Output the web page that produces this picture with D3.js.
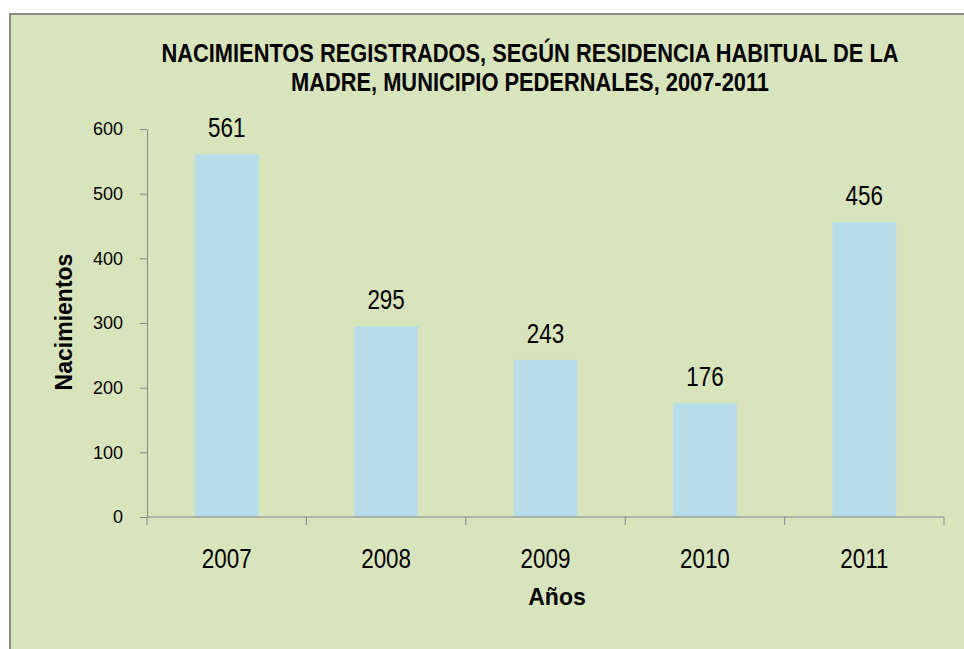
<!DOCTYPE html>
<html>
<head>
<meta charset="utf-8">
<script src="https://cdn.jsdelivr.net/npm/d3@7"></script>
<style>
  body { margin: 0; background: #fff; }
  text { font-family: "Liberation Sans", Arial, sans-serif; fill: #000; }
</style>
</head>
<body>
<div id="chart"></div>
<script>
// data
const years = ["2007", "2008", "2009", "2010", "2011"];
const births = [561, 295, 243, 176, 456];
const yTicks = [0, 100, 200, 300, 400, 500, 600];
const titleLines = [
    "NACIMIENTOS REGISTRADOS, SEGÚN RESIDENCIA HABITUAL DE LA",
    "MADRE, MUNICIPIO PEDERNALES, 2007-2011"
];

const width = 964, height = 649;
const margin = { top: 129, right: 20, bottom: 132, left: 147 };
const narrow = 0.83; // squeeze, the original uses a narrow font

const svg = d3.select("#chart").append("svg")
    .attr("width", width)
    .attr("height", height);

// chart area background
svg.append("rect")
    .attr("x", 10)
    .attr("y", 14)
    .attr("width", width + 20)
    .attr("height", height + 20)
    .attr("fill", "#d8e4bc")
    .attr("stroke", "#8a8a8a")
    .attr("stroke-width", 2);

const x = d3.scaleBand()
    .domain(years)
    .range([margin.left, width - margin.right])
    .paddingInner(0.6)
    .paddingOuter(0.3);

const y = d3.scaleLinear()
    .domain([0, 600])
    .range([height - margin.bottom, margin.top]);

// title
svg.append("g")
    .selectAll("text")
    .data(titleLines)
    .enter()
    .append("text")
    .attr("transform", (d, i) => `translate(530,${62 + i * 29}) scale(0.84,1)`)
    .attr("text-anchor", "middle")
    .style("font-weight", "bold")
    .style("font-size", "26px")
    .text(d => d);

// bars
svg.append("g")
    .selectAll("rect")
    .data(births)
    .enter()
    .append("rect")
    .attr("x", (d, i) => x(years[i]))
    .attr("y", d => y(d))
    .attr("width", x.bandwidth())
    .attr("height", d => y(0) - y(d))
    .attr("fill", "#b7dde8");

// value labels
svg.append("g")
    .selectAll("text")
    .data(births)
    .enter()
    .append("text")
    .attr("transform", (d, i) => `translate(${x(years[i]) + x.bandwidth() / 2},${y(d) - 17}) scale(${narrow},1)`)
    .attr("text-anchor", "middle")
    .style("font-size", "27px")
    .text(d => d);

// y axis
const yAxis = svg.append("g")
    .attr("transform", `translate(${margin.left},0)`)
    .call(d3.axisLeft(y).tickValues(yTicks).tickSize(7).tickSizeOuter(0).tickPadding(17));
yAxis.selectAll("path, line").attr("stroke", "#868686");
yAxis.selectAll("text")
    .style("font-size", "18px")
    .style("font-family", null);

// x axis line with ticks at category boundaries
const step = x.step();
const bounds = [x(years[0]) + x.bandwidth() / 2 - step / 2]
    .concat(years.map(d => x(d) + x.bandwidth() / 2 + step / 2));
const xAxis = svg.append("g");
xAxis.append("line")
    .attr("x1", bounds[0])
    .attr("x2", bounds[bounds.length - 1])
    .attr("y1", y(0))
    .attr("y2", y(0))
    .attr("stroke", "#868686");
xAxis.selectAll(".tick")
    .data(bounds)
    .enter()
    .append("line")
    .attr("x1", d => d)
    .attr("x2", d => d)
    .attr("y1", y(0))
    .attr("y2", y(0) + 8)
    .attr("stroke", "#868686");
xAxis.selectAll("text")
    .data(years)
    .enter()
    .append("text")
    .attr("transform", d => `translate(${x(d) + x.bandwidth() / 2},568) scale(${narrow},1)`)
    .attr("text-anchor", "middle")
    .style("font-size", "27px")
    .text(d => d);

// axis titles
svg.append("text")
    .attr("transform", "translate(72,322) rotate(-90)")
    .attr("text-anchor", "middle")
    .style("font-weight", "bold")
    .style("font-size", "23px")
    .text("Nacimientos");

svg.append("text")
    .attr("x", 557)
    .attr("y", 605)
    .attr("text-anchor", "middle")
    .style("font-weight", "bold")
    .style("font-size", "23px")
    .text("Años");
</script>
</body>
</html>
